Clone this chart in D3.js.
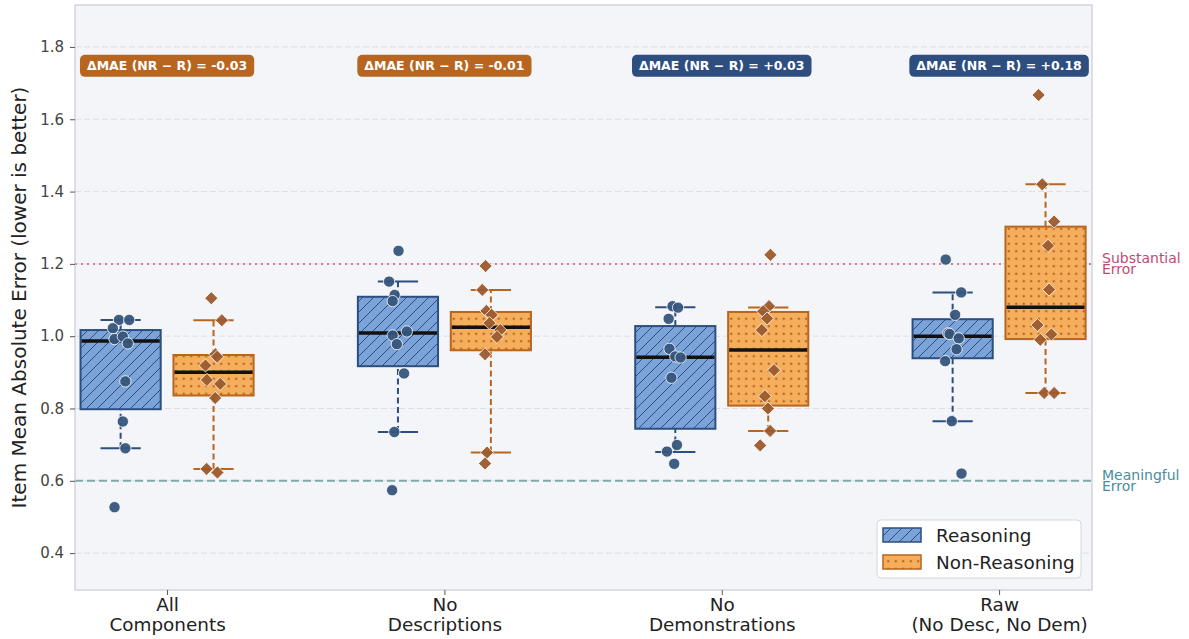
<!DOCTYPE html>
<html>
<head>
<meta charset="utf-8">
<script src="https://cdn.jsdelivr.net/npm/d3@7"></script>
<style>
	body { margin: 0; background: #fff; }
	svg { font-family: "DejaVu Sans", sans-serif; }
</style>
</head>
<body>
<svg id="chart" width="1189" height="639"></svg>
<script>

// Data

var categories = ["All\nComponents", "No\nDescriptions", "No\nDemonstrations", "Raw\n(No Desc, No Dem)"];
var seriesNames = ["Reasoning", "Non-Reasoning"];

// [lower whisker, q1, median, q3, upper whisker]
var reasoningBox = [
	[0.690, 0.798, 0.987, 1.017, 1.045],
	[0.735, 0.917, 1.009, 1.109, 1.151],
	[0.680, 0.744, 0.942, 1.028, 1.080],
	[0.765, 0.939, 1.000, 1.047, 1.121]
];
var nonReasoningBox = [
	[0.633, 0.836, 0.900, 0.948, 1.044],
	[0.678, 0.961, 1.025, 1.067, 1.128],
	[0.738, 0.808, 0.962, 1.067, 1.079],
	[0.843, 0.992, 1.080, 1.303, 1.420]
];

var reasoningPoints = [
	[1.045, 1.045, 1.022, 0.992, 0.999, 0.980, 0.875, 0.764, 0.690, 0.527],
	[1.236, 1.151, 1.114, 1.097, 1.013, 1.002, 0.978, 0.897, 0.735, 0.574],
	[1.083, 1.079, 1.048, 0.965, 0.944, 0.941, 0.885, 0.699, 0.681, 0.647],
	[1.212, 1.121, 1.059, 1.008, 1.006, 0.994, 0.964, 0.931, 0.765, 0.620]
];
var nonReasoningPoints = [
	[1.105, 1.044, 0.950, 0.943, 0.919, 0.879, 0.868, 0.829, 0.633, 0.623],
	[1.194, 1.128, 1.070, 1.059, 1.036, 1.017, 0.998, 0.950, 0.678, 0.648],
	[1.225, 1.083, 1.069, 1.049, 1.017, 0.906, 0.834, 0.800, 0.738, 0.698],
	[1.667, 1.420, 1.317, 1.250, 1.129, 1.031, 1.005, 0.990, 0.843, 0.843]
];

// strip jitter, in category units
var reasoningJitter = [
	[-0.006, 0.031, -0.028, -0.022, 0.008, 0.026, 0.017, 0.008, 0.017, -0.022],
	[0.002, -0.032, -0.012, -0.019, 0.032, -0.019, -0.004, 0.022, -0.013, -0.021],
	[-0.010, 0.010, -0.024, -0.021, 0.000, 0.019, -0.014, 0.006, -0.030, -0.004],
	[-0.025, 0.031, 0.009, -0.016, -0.011, 0.022, 0.014, -0.027, -0.003, 0.032]
];
var nonReasoningJitter = [
	[-0.008, 0.030, 0.007, 0.013, -0.029, -0.024, 0.024, 0.006, -0.025, 0.014],
	[-0.019, -0.031, -0.016, 0.003, -0.005, 0.034, 0.022, -0.021, -0.014, -0.021],
	[0.008, 0.003, -0.018, -0.004, -0.023, 0.021, -0.012, -0.001, 0.007, -0.029],
	[-0.025, -0.012, 0.031, 0.009, 0.013, -0.029, 0.021, -0.019, -0.005, 0.031]
];

var deltaMAE = [-0.03, -0.01, 0.03, 0.18];
var deltaLabels = ["-0.03", "-0.01", "+0.03", "+0.18"];

var yTicks = [0.4, 0.6, 0.8, 1.0, 1.2, 1.4, 1.6, 1.8];
var thresholds = [
	{value: 1.2, lines: ["Substantial", "Error"], color: "#c24a72", dash: "2,4", stroke: "#d27a98"},
	{value: 0.6, lines: ["Meaningful", "Error"], color: "#4b8d99", dash: "8,4", stroke: "#7fa9b2"}
];

// Layout

var plot = {left: 75, right: 1092, top: 5, bottom: 590};

var svg = d3.select("#chart");

var x = d3.scaleLinear().domain([-0.332, 3.335]).range([plot.left, plot.right]);
var y = d3.scaleLinear().domain([0.298, 1.916]).range([plot.bottom, plot.top]);

var hueOffset = 0.1675;
var boxWidth = 0.289;
var capWidth = 0.145;

var styles = [
	{fill: "#7ba3d7", edge: "#2d4e80", point: "#36557b", pattern: "hatch"},
	{fill: "#f5ae5c", edge: "#b8651f", point: "#9c5a2c", pattern: "dots"}
];

var defs = svg.append("defs");

var hatch = defs.append("pattern")
	.attr("id", "hatch")
	.attr("patternUnits", "userSpaceOnUse")
	.attr("width", 11)
	.attr("height", 11);
hatch.append("rect").attr("width", 11).attr("height", 11).attr("fill", styles[0].fill);
hatch.append("path")
	.attr("d", "M0,11 L11,0 M-3,3 L3,-3 M8,14 L14,8")
	.attr("stroke", styles[0].edge)
	.attr("stroke-width", 1);

var dots = defs.append("pattern")
	.attr("id", "dots")
	.attr("patternUnits", "userSpaceOnUse")
	.attr("width", 7.5)
	.attr("height", 7.5);
dots.append("rect").attr("width", 7.5).attr("height", 7.5).attr("fill", styles[1].fill);
dots.append("circle")
	.attr("cx", 3.75).attr("cy", 3.75).attr("r", 1.25)
	.attr("fill", styles[1].edge);

// Background & grid

svg.append("rect")
	.attr("x", plot.left).attr("y", plot.top)
	.attr("width", plot.right - plot.left).attr("height", plot.bottom - plot.top)
	.attr("fill", "#f4f5f8");

svg.append("g").selectAll("line")
	.data(yTicks)
	.enter().append("line")
	.attr("x1", plot.left).attr("x2", plot.right)
	.attr("y1", function (d) { return y(d); })
	.attr("y2", function (d) { return y(d); })
	.attr("stroke", "#dcdee3")
	.attr("stroke-width", 1)
	.attr("stroke-dasharray", "6,3");

// Threshold lines

thresholds.forEach(function (t) {

	svg.append("line")
		.attr("x1", plot.left).attr("x2", plot.right)
		.attr("y1", y(t.value)).attr("y2", y(t.value))
		.attr("stroke", t.stroke)
		.attr("stroke-width", 2)
		.attr("stroke-dasharray", t.dash);

	var label = svg.append("text")
		.attr("x", plot.right + 10)
		.attr("y", y(t.value) - 1)
		.attr("fill", t.color)
		.style("font-size", "14px");

	t.lines.forEach(function (l, i) {
		label.append("tspan")
			.attr("x", plot.right + 10)
			.attr("dy", i == 0 ? 0 : 11.5)
			.text(l);
	});
});

// Boxes

var boxSets = [reasoningBox, nonReasoningBox];
var pointSets = [reasoningPoints, nonReasoningPoints];
var jitterSets = [reasoningJitter, nonReasoningJitter];

boxSets.forEach(function (boxes, s) {

	var style = styles[s];
	var off = s == 0 ? -hueOffset : hueOffset;

	var groups = svg.append("g").selectAll("g")
		.data(boxes)
		.enter().append("g");

	// whiskers
	groups.append("line")
		.attr("x1", function (d, i) { return x(i + off); })
		.attr("x2", function (d, i) { return x(i + off); })
		.attr("y1", function (d) { return y(d[0]); })
		.attr("y2", function (d) { return y(d[1]); })
		.attr("stroke", style.edge).attr("stroke-width", 2)
		.attr("stroke-dasharray", "6,3.5");

	groups.append("line")
		.attr("x1", function (d, i) { return x(i + off); })
		.attr("x2", function (d, i) { return x(i + off); })
		.attr("y1", function (d) { return y(d[3]); })
		.attr("y2", function (d) { return y(d[4]); })
		.attr("stroke", style.edge).attr("stroke-width", 2)
		.attr("stroke-dasharray", "6,3.5");

	[0, 4].forEach(function (k) {
		groups.append("line")
			.attr("x1", function (d, i) { return x(i + off - capWidth / 2); })
			.attr("x2", function (d, i) { return x(i + off + capWidth / 2); })
			.attr("y1", function (d) { return y(d[k]); })
			.attr("y2", function (d) { return y(d[k]); })
			.attr("stroke", style.edge).attr("stroke-width", 2);
	});

	groups.append("rect")
		.attr("x", function (d, i) { return x(i + off - boxWidth / 2); })
		.attr("y", function (d) { return y(d[3]); })
		.attr("width", x(boxWidth) - x(0))
		.attr("height", function (d) { return y(d[1]) - y(d[3]); })
		.attr("fill", "url(#" + style.pattern + ")")
		.attr("stroke", style.edge)
		.attr("stroke-width", 2);

	groups.append("line")
		.attr("x1", function (d, i) { return x(i + off - boxWidth / 2) + 1; })
		.attr("x2", function (d, i) { return x(i + off + boxWidth / 2) - 1; })
		.attr("y1", function (d) { return y(d[2]); })
		.attr("y2", function (d) { return y(d[2]); })
		.attr("stroke", "#111").attr("stroke-width", 3.5);
});

// Points

var diamond = d3.symbol().type(d3.symbolDiamond2).size(110);
var circle = d3.symbol().type(d3.symbolCircle).size(100);

pointSets.forEach(function (sets, s) {

	var style = styles[s];
	var off = s == 0 ? -hueOffset : hueOffset;

	var flat = [];
	sets.forEach(function (vals, g) {
		vals.forEach(function (v, k) {
			flat.push({group: g, value: v, jitter: jitterSets[s][g][k]});
		});
	});

	svg.append("g").selectAll("path")
		.data(flat)
		.enter().append("path")
		.attr("d", s == 0 ? circle : diamond)
		.attr("transform", function (d) {
			return "translate(" + x(d.group + off + d.jitter) + "," + y(d.value) + ")";
		})
		.attr("fill", style.point)
		.attr("fill-opacity", 0.95)
		.attr("stroke", "#fff")
		.attr("stroke-opacity", 0.8)
		.attr("stroke-width", 1);
});

// Delta badges

var badgeY = plot.top + (plot.bottom - plot.top) * 0.104;

deltaMAE.forEach(function (d, i) {

	var g = svg.append("g");

	var text = g.append("text")
		.attr("x", x(i))
		.attr("y", badgeY)
		.attr("dy", "0.36em")
		.attr("fill", "#fff")
		.style("font-size", "12.5px")
		.style("font-weight", "bold")
		.style("text-anchor", "middle")
		.text("\u0394MAE (NR \u2212 R) = " + deltaLabels[i]);

	var bb = text.node().getBBox();

	g.insert("rect", "text")
		.attr("x", bb.x - 7)
		.attr("y", badgeY - 11)
		.attr("width", bb.width + 14)
		.attr("height", 22)
		.attr("rx", 5)
		.attr("fill", d < 0 ? "#b8651f" : "#2e4e80");
});

// Frame

svg.append("rect")
	.attr("x", plot.left).attr("y", plot.top)
	.attr("width", plot.right - plot.left).attr("height", plot.bottom - plot.top)
	.attr("fill", "none")
	.attr("stroke", "#c9ccd1")
	.attr("stroke-width", 1.2);

// Axes

var yAxis = svg.append("g")
	.attr("transform", "translate(" + plot.left + ",0)")
	.call(d3.axisLeft(y).tickValues(yTicks).tickFormat(d3.format(".1f")).tickSize(5).tickPadding(6));

yAxis.select(".domain").remove();
yAxis.selectAll(".tick line").attr("stroke", "#555");
yAxis.selectAll(".tick text")
	.attr("fill", "#444")
	.style("font-size", "15px")
	.style("font-family", "DejaVu Sans");

var xAxis = svg.append("g")
	.attr("transform", "translate(0," + plot.bottom + ")")
	.call(d3.axisBottom(x).tickValues(d3.range(categories.length)).tickFormat("").tickSize(5));

xAxis.select(".domain").remove();
xAxis.selectAll(".tick line").attr("stroke", "#555");

xAxis.selectAll(".tick").append("text")
	.attr("fill", "#222")
	.style("font-size", "18.4px")
	.style("font-family", "DejaVu Sans")
	.style("text-anchor", "middle")
	.each(function (d) {
		var lines = categories[d].split("\n");
		var t = d3.select(this);
		lines.forEach(function (l, i) {
			t.append("tspan")
				.attr("x", 0)
				.attr("y", 21 + i * 19.5)
				.text(l);
		});
	});

svg.append("text")
	.attr("transform", "translate(26," + ((plot.top + plot.bottom) / 2) + ") rotate(-90)")
	.attr("fill", "#222")
	.style("font-size", "20px")
	.style("text-anchor", "middle")
	.text("Item Mean Absolute Error (lower is better)");

// Legend

var legend = svg.append("g").attr("transform", "translate(877,520)");

legend.append("rect")
	.attr("width", 204).attr("height", 58)
	.attr("rx", 4)
	.attr("fill", "#fff")
	.attr("stroke", "#d4d6da");

seriesNames.forEach(function (name, i) {

	legend.append("rect")
		.attr("x", 6).attr("y", 8 + i * 27)
		.attr("width", 38).attr("height", 14)
		.attr("fill", "url(#" + styles[i].pattern + ")")
		.attr("stroke", styles[i].edge)
		.attr("stroke-width", 1.5);

	legend.append("text")
		.attr("x", 59).attr("y", 15 + i * 27)
		.attr("dy", "0.36em")
		.attr("fill", "#222")
		.style("font-size", "18.4px")
		.text(name);
});

</script>
</body>
</html>
